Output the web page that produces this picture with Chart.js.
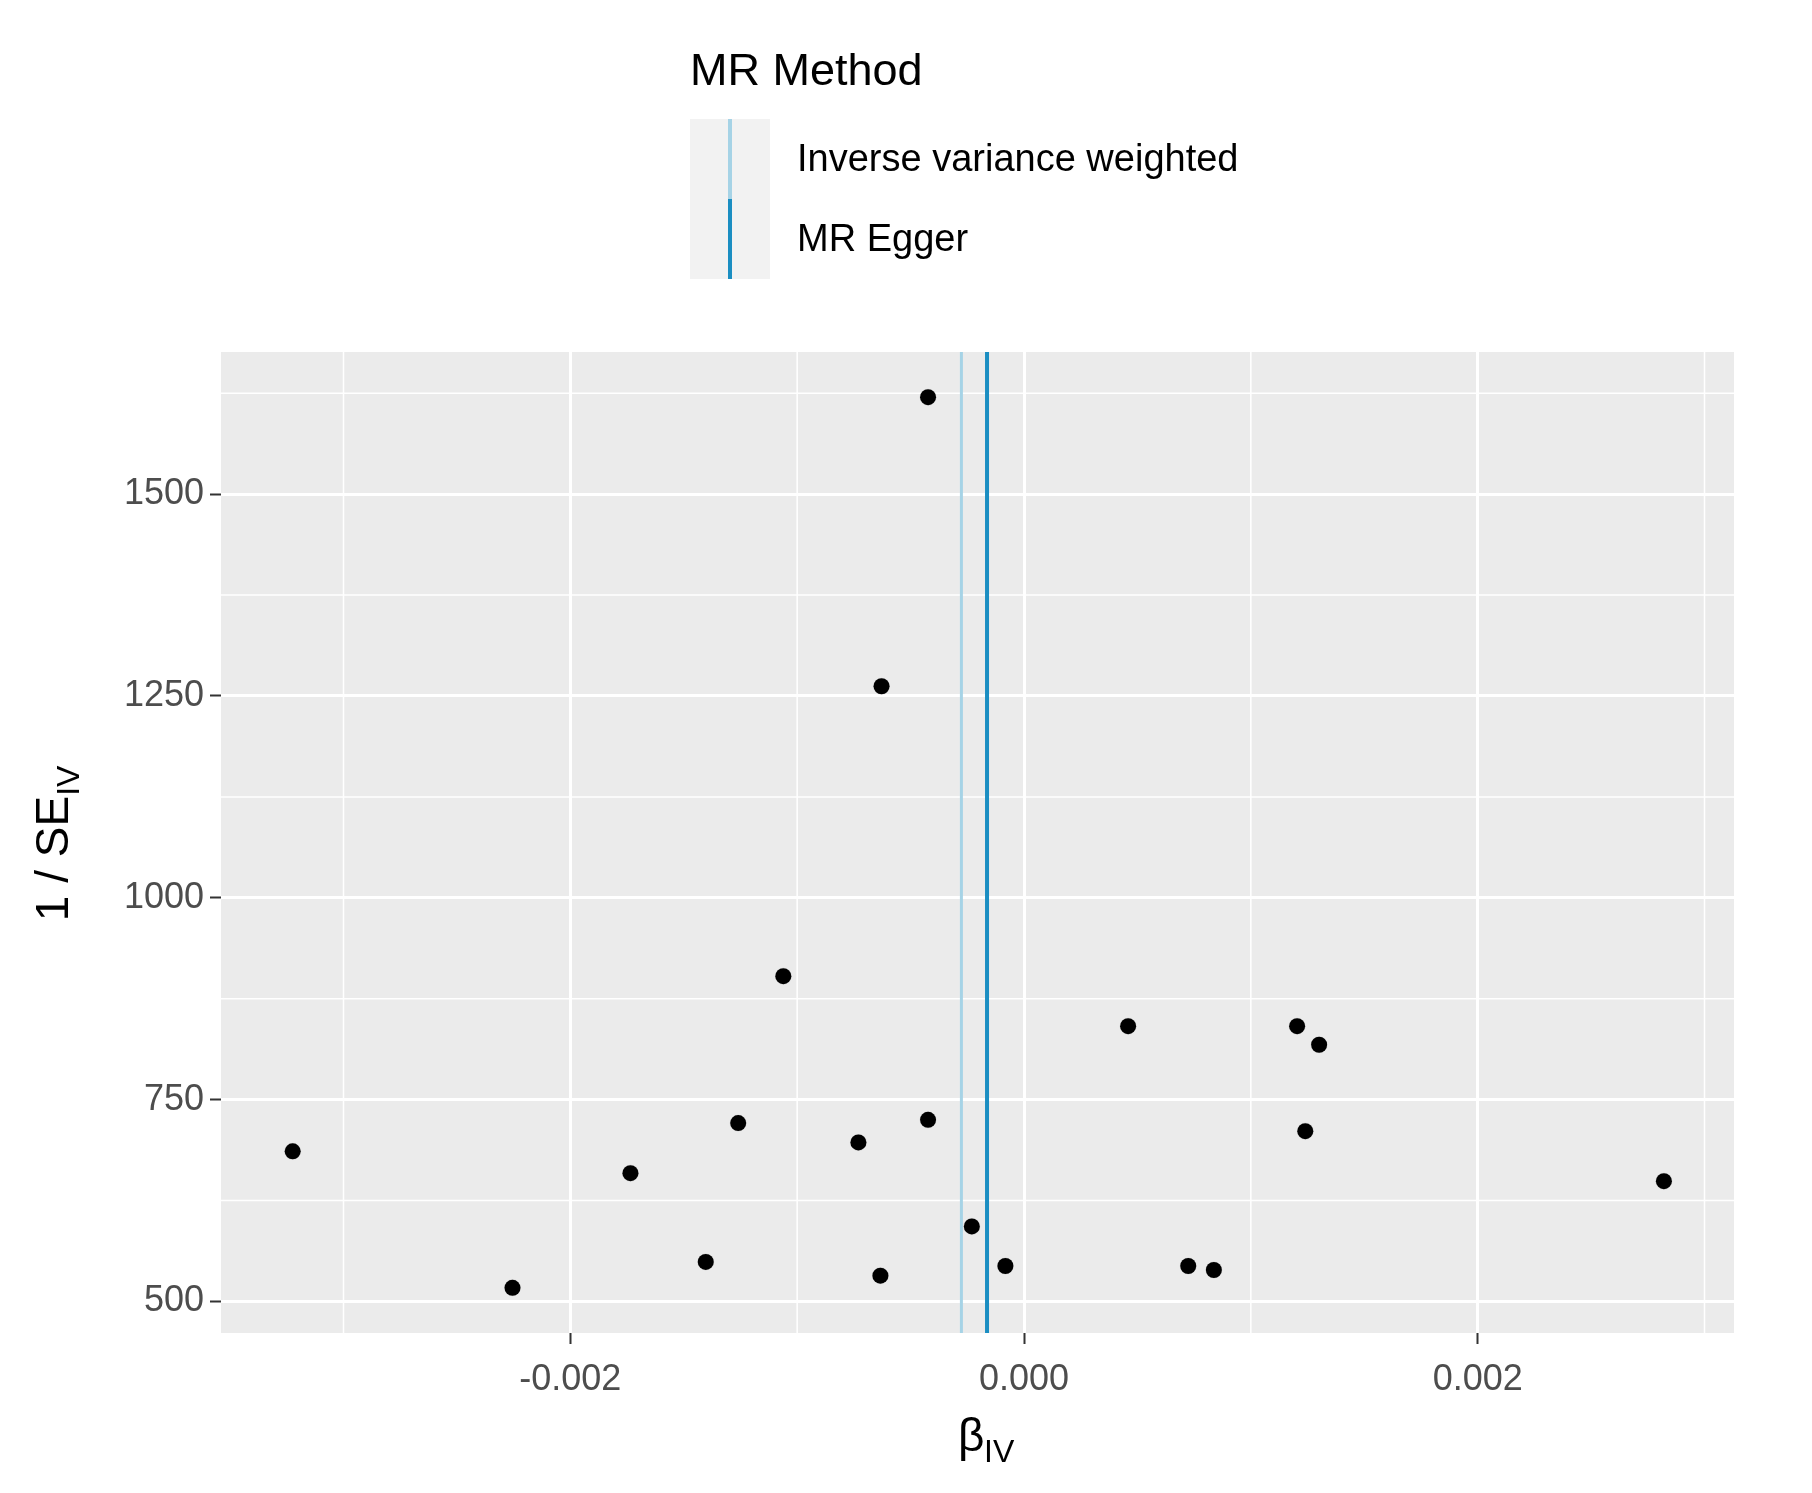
<!DOCTYPE html>
<html><head><meta charset="utf-8">
<script src="https://cdn.jsdelivr.net/npm/chart.js@4/dist/chart.umd.min.js"></script>
<style>body{margin:0;background:#fff}canvas{display:block}</style>
</head><body>
<div style="width:1812px;height:1493px"><canvas id="c"></canvas></div>
<script>
const betaIV = [-0.003224,-0.002255,-0.001735,-0.001403,-0.00126,-0.001061,-0.00073,-0.000628,-0.000633,-0.000423,-0.000423,-0.00023,-0.000082,0.000459,0.000724,0.000837,0.001204,0.001301,0.00124,0.002821];
const invSE = [686,517,659,549,721,903,697,1262,532,1620,725,593,544,841,544,539,841,818,711,649];
const methods = ["Inverse variance weighted","MR Egger"];
const methodSlopes = [-0.000276,-0.000163];
const methodColors = ['#a6d3e6','#1b8ec2'];
const xTicks = [-0.002,0,0.002];
const yTicks = [500,750,1000,1250,1500];
const xMinor = [-0.003,-0.001,0.001,0.003];
const yMinor = [625,875,1125,1375,1625];
const X_MIN=-0.00354, X_MAX=0.00313, Y_MIN=461, Y_MAX=1676;

const points = betaIV.map((b,i)=>({x:b,y:invSE[i]}));
const lineSets = methods.map((m,i)=>({type:'line',label:m,data:[{x:methodSlopes[i],y:Y_MIN},{x:methodSlopes[i],y:Y_MAX}],borderColor:methodColors[i],borderWidth:i?4:3,pointRadius:0,order:2}));

const deco = {
  id:'deco',
  beforeDraw(ch){
    const {ctx,chartArea:a,scales:{x,y}}=ch;
    ctx.save();
    ctx.fillStyle='#ebebeb';ctx.fillRect(a.left,a.top,a.right-a.left,a.bottom-a.top);
    ctx.strokeStyle='#fff';ctx.lineWidth=1.5;
    xMinor.forEach(v=>{const p=x.getPixelForValue(v);ctx.beginPath();ctx.moveTo(p,a.top);ctx.lineTo(p,a.bottom);ctx.stroke();});
    yMinor.forEach(v=>{const p=y.getPixelForValue(v);ctx.beginPath();ctx.moveTo(a.left,p);ctx.lineTo(a.right,p);ctx.stroke();});
    ctx.restore();
  },
  afterDraw(ch){
    const {ctx,chartArea:a}=ch;
    ctx.save();
    ctx.fillStyle='#000';ctx.font='45px "Liberation Sans", Arial';ctx.textBaseline='middle';ctx.textAlign='left';
    ctx.fillText('MR Method',690,73);
    ctx.fillStyle='#f2f2f2';ctx.fillRect(690,119,80,160);
    ctx.lineWidth=4;
    methods.forEach((m,i)=>{
      const cy=119+i*80;
      ctx.strokeStyle=methodColors[i];ctx.beginPath();ctx.moveTo(730,cy);ctx.lineTo(730,cy+80);ctx.stroke();
      ctx.fillStyle='#000';ctx.font='38px "Liberation Sans", Arial';ctx.fillText(m,797,cy+42);
    });
    ctx.fillStyle='#000';ctx.font='46px "Liberation Sans", Arial';ctx.textAlign='left';
    ctx.fillText('β',958,1438);
    ctx.font='32px "Liberation Sans", Arial';ctx.fillText('IV',984,1453);
    ctx.translate(55,(a.top+a.bottom)/2);ctx.rotate(-Math.PI/2);
    ctx.font='46px "Liberation Sans", Arial';
    const t1='1 / SE';const w1=ctx.measureText(t1).width;const w2=32;
    ctx.fillText(t1,-(w1+w2)/2,0);
    ctx.font='32px "Liberation Sans", Arial';ctx.fillText('IV',-(w1+w2)/2+w1,15);
    ctx.restore();
  }
};

new Chart(document.getElementById('c'),{
  type:'scatter',
  data:{datasets:[{type:'scatter',data:points,backgroundColor:'#000',pointRadius:8,pointHoverRadius:8,order:1},...lineSets]},
  options:{
    responsive:true,maintainAspectRatio:false,animation:false,devicePixelRatio:1,
    layout:{padding:{top:352,right:78,left:0,bottom:0}},
    plugins:{legend:{display:false},tooltip:{enabled:false}},
    scales:{
      x:{type:'linear',min:X_MIN,max:X_MAX,
        afterBuildTicks:s=>{s.ticks=xTicks.map(v=>({value:v}));},
        afterFit:s=>{s.height=160;},
        ticks:{color:'#4d4d4d',font:{size:36,family:'"Liberation Sans", Arial'},padding:14,callback:v=>v.toFixed(3)},
        grid:{color:'#fff',lineWidth:3,tickLength:11,tickColor:'#333',tickWidth:2},border:{display:false}},
      y:{type:'linear',min:Y_MIN,max:Y_MAX,
        afterBuildTicks:s=>{s.ticks=yTicks.map(v=>({value:v}));},
        afterFit:s=>{s.width=221;},
        ticks:{color:'#4d4d4d',font:{size:36,family:'"Liberation Sans", Arial'},padding:6,callback:v=>String(v)},
        grid:{color:'#fff',lineWidth:3,tickLength:11,tickColor:'#333',tickWidth:2},border:{display:false}}
    }
  },
  plugins:[deco]
});
</script>
</body></html>
